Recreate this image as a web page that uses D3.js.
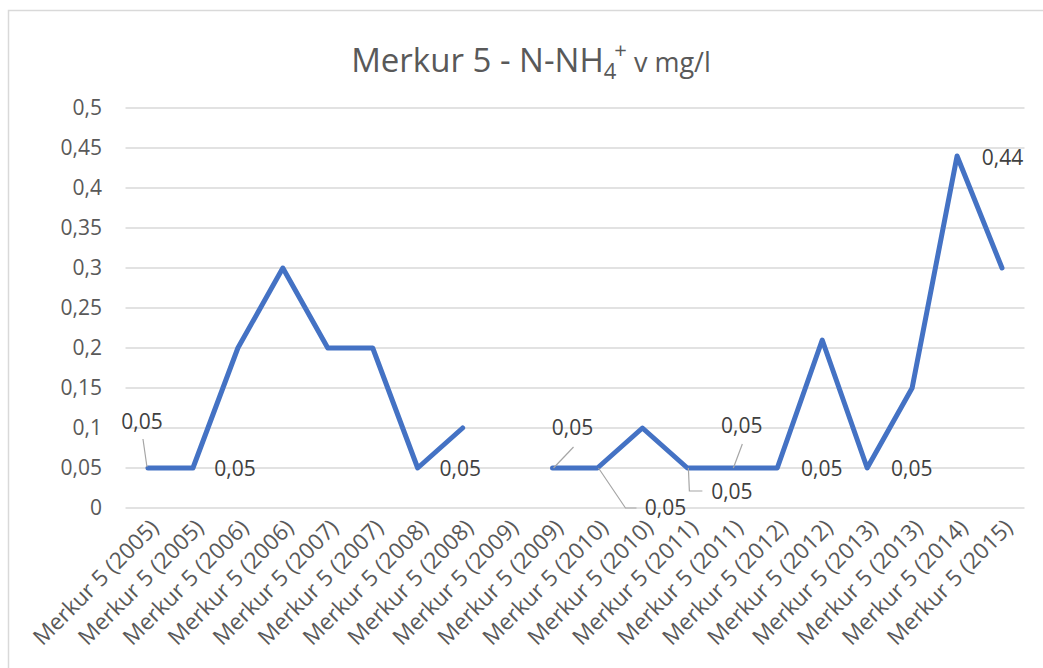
<!DOCTYPE html>
<html>
<head>
<meta charset="utf-8">
<script src="https://cdn.jsdelivr.net/npm/d3@7"></script>
<style>
  body { margin: 0; background: #fff; }
  text { font-family: "Open Sans", sans-serif; }
</style>
</head>
<body>
<script>
var categories = [
    "Merkur 5 (2005)", "Merkur 5 (2005)", "Merkur 5 (2006)", "Merkur 5 (2006)",
    "Merkur 5 (2007)", "Merkur 5 (2007)", "Merkur 5 (2008)", "Merkur 5 (2008)",
    "Merkur 5 (2009)", "Merkur 5 (2009)", "Merkur 5 (2010)", "Merkur 5 (2010)",
    "Merkur 5 (2011)", "Merkur 5 (2011)", "Merkur 5 (2012)", "Merkur 5 (2012)",
    "Merkur 5 (2013)", "Merkur 5 (2013)", "Merkur 5 (2014)", "Merkur 5 (2015)"
];
var values = [0.05, 0.05, 0.2, 0.3, 0.2, 0.2, 0.05, 0.1, null, 0.05,
              0.05, 0.1, 0.05, 0.05, 0.05, 0.21, 0.05, 0.15, 0.44, 0.3];
var yTicks = [0, 0.05, 0.1, 0.15, 0.2, 0.25, 0.3, 0.35, 0.4, 0.45, 0.5];

// which points carry a data label, and where Excel put it (offsets from the point)
var labeled = [0, 1, 6, 9, 10, 12, 13, 14, 16, 18];
var labelOffsets = {
    0:  { dx: -6,   dy: -39, leader: [[-1, -1], [-5, -29]] },
    1:  { dx: 42,   dy: 8 },
    6:  { dx: 42.5, dy: 8 },
    9:  { dx: 20,   dy: -33, leader: [[1, 0], [21, -21]] },
    10: { dx: 68,   dy: 47,  leader: [[1, 0], [28, 40], [39, 40]] },
    12: { dx: 44.5, dy: 31,  leader: [[1, 0], [2, 23], [15, 23]] },
    13: { dx: 9.5,  dy: -35, leader: [[1, 0], [10, -24]] },
    14: { dx: 44.5, dy: 8 },
    16: { dx: 44.5, dy: 8 },
    18: { dx: 45.5, dy: 9 }
};

function fmt(d) { return String(d).replace(".", ","); }

function main() {
    var width = 1043, height = 668;

    var svg = d3.select("body").append("svg")
        .attr("width", width).attr("height", height);

    // chart area border
    svg.append("rect")
        .attr("x", 8.5).attr("y", 10.5)
        .attr("width", 1060).attr("height", 680)
        .attr("fill", "none").attr("stroke", "#d9d9d9").attr("stroke-width", 1.5);

    var x = d3.scaleBand()
        .domain(d3.range(categories.length))
        .range([125.5, 1024.5]);
    var y = d3.scaleLinear().domain([0, 0.5]).range([508, 108]);
    var cx = function(i) { return x(i) + x.bandwidth() / 2; };

    // title
    var title = svg.append("text")
        .attr("x", 531).attr("y", 72)
        .attr("text-anchor", "middle")
        .attr("fill", "#595959")
        .attr("font-size", "33px");
    title.append("tspan").text("Merkur 5 - N-NH");
    title.append("tspan").attr("font-size", "22px").attr("dy", 7).text("4");
    title.append("tspan").attr("font-size", "22px").attr("dy", -21).attr("dx", -2).text("+");
    title.append("tspan").attr("font-size", "27px").attr("dy", 14).text(" v mg/l");

    // gridlines
    svg.append("g").selectAll("line")
        .data(yTicks)
        .enter()
        .append("line")
        .attr("x1", 125.5).attr("x2", 1024.5)
        .attr("y1", function(d) { return y(d); })
        .attr("y2", function(d) { return y(d); })
        .attr("stroke", "#d9d9d9").attr("stroke-width", 1.5);

    // y axis labels
    var yAxis = d3.axisLeft(y).tickValues(yTicks).tickFormat(fmt).tickSize(0).tickPadding(0);
    var gy = svg.append("g").attr("transform", "translate(102,0)").call(yAxis);
    gy.select(".domain").remove();
    gy.selectAll("text")
        .attr("font-family", "Open Sans, sans-serif")
        .attr("font-size", "21px")
        .attr("fill", "#595959");

    // x axis labels
    svg.append("g").selectAll("text")
        .data(categories)
        .enter()
        .append("text")
        .text(function(d) { return d; })
        .attr("transform", function(d, i) {
            return "translate(" + (cx(i) + 12) + ",529) rotate(-45)";
        })
        .attr("text-anchor", "end")
        .attr("font-size", "22.5px")
        .attr("fill", "#595959");

    // line
    var line = d3.line()
        .defined(function(d) { return d !== null; })
        .x(function(d, i) { return cx(i); })
        .y(function(d) { return y(d); });

    svg.append("path")
        .datum(values)
        .attr("d", line)
        .attr("fill", "none")
        .attr("stroke", "#4472c4")
        .attr("stroke-width", 5)
        .attr("stroke-linejoin", "round")
        .attr("stroke-linecap", "round");

    // leader lines
    svg.append("g").selectAll("polyline")
        .data(labeled.filter(function(i) { return labelOffsets[i].leader; }))
        .enter()
        .append("polyline")
        .attr("points", function(i) {
            return labelOffsets[i].leader.map(function(p) {
                return (cx(i) + p[0]) + "," + (y(values[i]) + p[1]);
            }).join(" ");
        })
        .attr("fill", "none")
        .attr("stroke", "#a6a6a6")
        .attr("stroke-width", 1.2);

    // data labels
    svg.append("g").selectAll("text")
        .data(labeled)
        .enter()
        .append("text")
        .text(function(i) { return fmt(values[i]); })
        .attr("x", function(i) { return cx(i) + labelOffsets[i].dx; })
        .attr("y", function(i) { return y(values[i]) + labelOffsets[i].dy; })
        .attr("text-anchor", "middle")
        .attr("font-size", "21px")
        .attr("fill", "#404040");
}

window.onload = main;
</script>
</body>
</html>
